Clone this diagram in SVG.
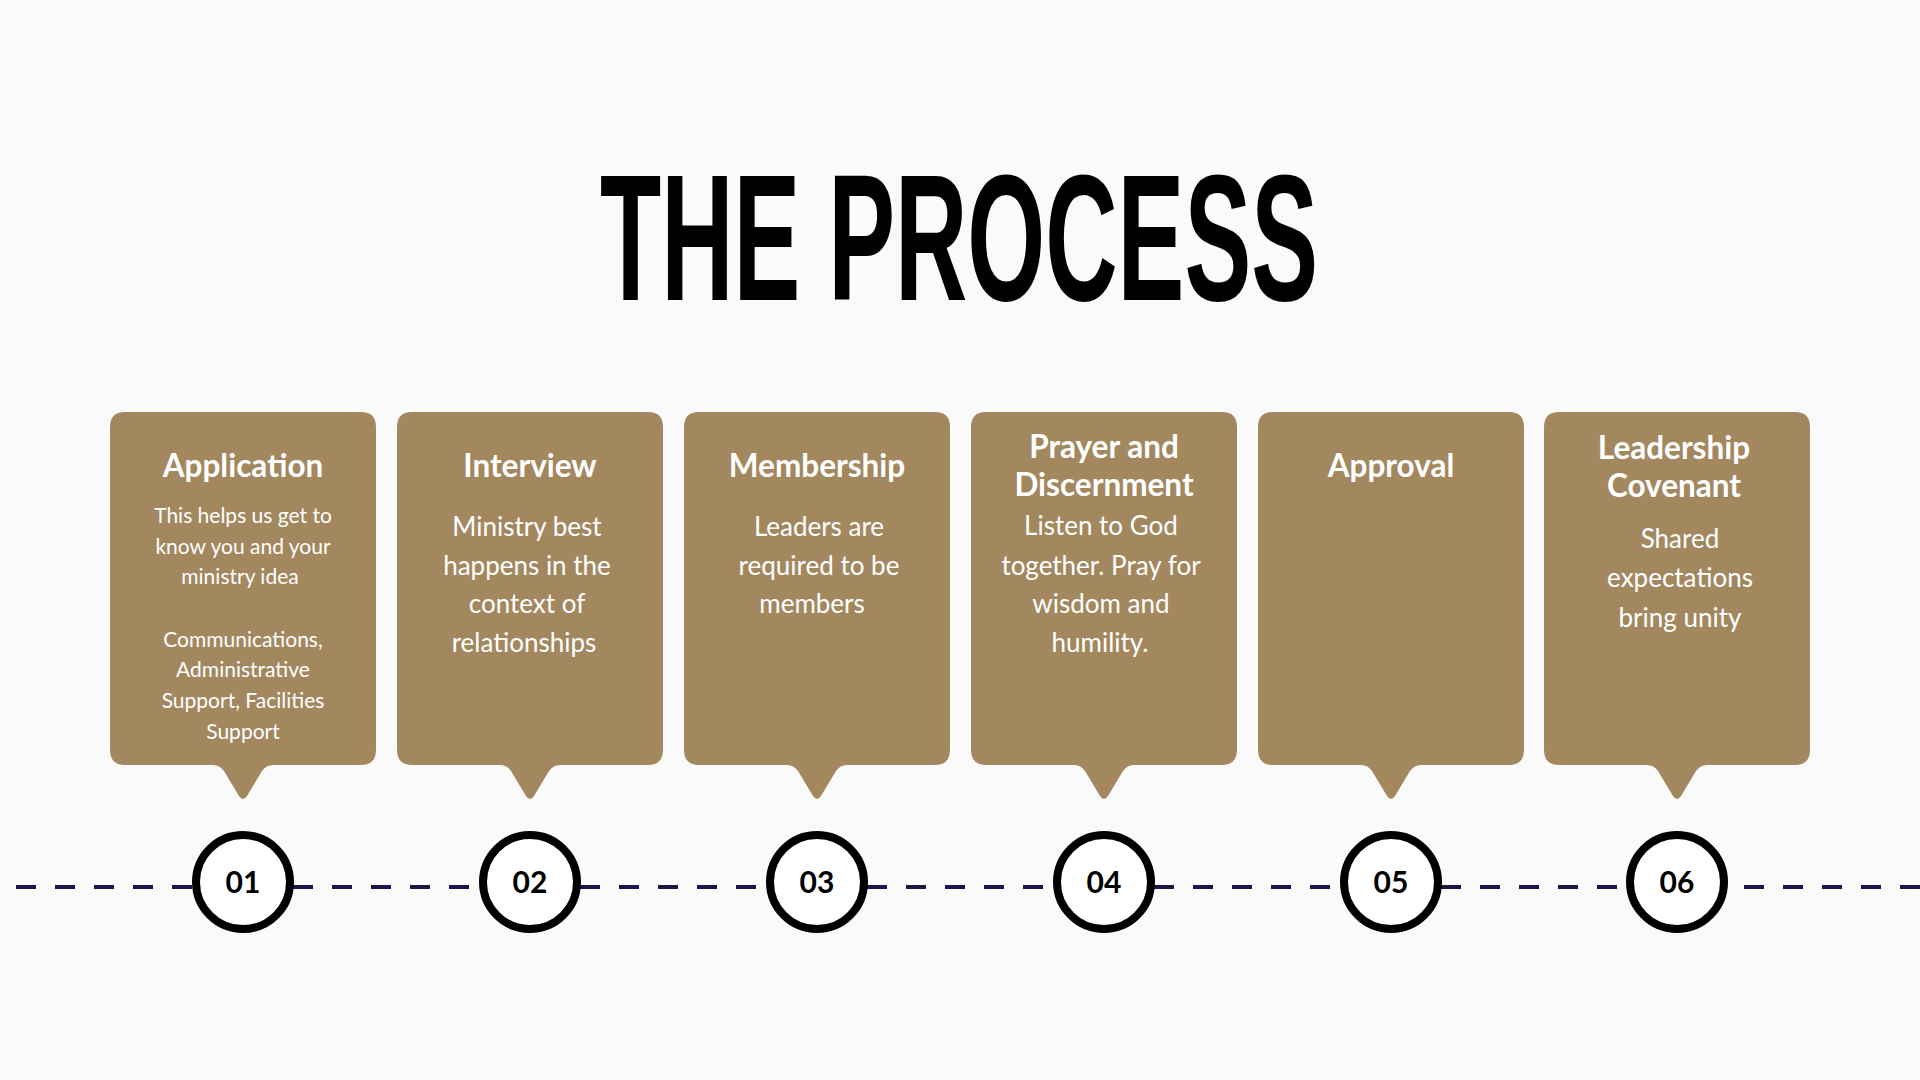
<svg xmlns="http://www.w3.org/2000/svg" width="1920" height="1080" viewBox="0 0 1920 1080">
<defs>
<style>
.bg{fill:#fafafa}
.card{fill:#a3885f}
.h{font-family:Lato,"Open Sans","Liberation Sans",sans-serif;font-weight:700;font-size:31.5px;fill:#ffffff;text-anchor:middle}
.b{font-family:Lato,"Open Sans","Liberation Sans",sans-serif;font-weight:400;font-size:26px;fill:#ffffff;text-anchor:middle}
.s{font-family:Lato,"Open Sans","Liberation Sans",sans-serif;font-weight:400;font-size:21px;fill:#ffffff;text-anchor:middle}
.ring{fill:#ffffff;stroke:#000000;stroke-width:8}
.num{font-family:Lato,"Open Sans","Liberation Sans",sans-serif;font-weight:700;font-size:30px;fill:#000000;text-anchor:middle}
.dash{stroke:#20124d;stroke-width:4;stroke-dasharray:20 19;fill:none}
.title{font-family:"Liberation Sans","DejaVu Sans",sans-serif;font-weight:700;font-size:180px;fill:#000000;text-anchor:middle}
</style>
<path id="bubble" d="M15 0 H251 Q266 0 266 15 V338 Q266 353 251 353 H163 Q156 353 152 359 L137 384 Q133 390 129 384 L114 359 Q110 353 103 353 H15 Q0 353 0 338 V15 Q0 0 15 0 Z"/>
</defs>
<rect class="bg" x="0" y="0" width="1920" height="1080"/>
<text class="title" x="959" y="300" textLength="718" lengthAdjust="spacingAndGlyphs">THE PROCESS</text>

<g id="connectors">
<line class="dash" x1="16" y1="887" x2="196" y2="887"/>
<line class="dash" x1="254" y1="887" x2="530" y2="887"/>
<line class="dash" x1="541" y1="887" x2="817" y2="887"/>
<line class="dash" x1="828" y1="887" x2="1104" y2="887"/>
<line class="dash" x1="1115" y1="887" x2="1391" y2="887"/>
<line class="dash" x1="1402" y1="887" x2="1677" y2="887"/>
<line class="dash" x1="1705" y1="887" x2="1920" y2="887"/>
</g>

<g id="step1">
<use href="#bubble" class="card" x="110" y="412"/>
<text class="h" x="243" y="477">Application</text>
<text class="s" x="243" y="523">This helps us get to</text>
<text class="s" x="243" y="554">know you and your</text>
<text class="s" x="240" y="584">ministry idea</text>
<text class="s" x="243" y="647">Communications,</text>
<text class="s" x="243" y="677">Administrative</text>
<text class="s" x="243" y="708">Support, Facilities</text>
<text class="s" x="243" y="739">Support</text>
<circle class="ring" cx="243" cy="882" r="47"/>
<text class="num" x="243" y="893">01</text>
</g>

<g id="step2">
<use href="#bubble" class="card" x="397" y="412"/>
<text class="h" x="530" y="477">Interview</text>
<text class="b" x="527" y="536">Ministry best</text>
<text class="b" x="527" y="575">happens in the</text>
<text class="b" x="527" y="613">context of</text>
<text class="b" x="524" y="652">relationships</text>
<circle class="ring" cx="530" cy="882" r="47"/>
<text class="num" x="530" y="893">02</text>
</g>

<g id="step3">
<use href="#bubble" class="card" x="684" y="412"/>
<text class="h" x="817" y="477">Membership</text>
<text class="b" x="819" y="536">Leaders are</text>
<text class="b" x="819" y="575">required to be</text>
<text class="b" x="812" y="613">members</text>
<circle class="ring" cx="817" cy="882" r="47"/>
<text class="num" x="817" y="893">03</text>
</g>

<g id="step4">
<use href="#bubble" class="card" x="971" y="412"/>
<text class="h" x="1104" y="458">Prayer and</text>
<text class="h" x="1104" y="496">Discernment</text>
<text class="b" x="1101" y="535">Listen to God</text>
<text class="b" x="1101" y="575">together. Pray for</text>
<text class="b" x="1101" y="613">wisdom and</text>
<text class="b" x="1100" y="652">humility.</text>
<circle class="ring" cx="1104" cy="882" r="47"/>
<text class="num" x="1104" y="893">04</text>
</g>

<g id="step5">
<use href="#bubble" class="card" x="1258" y="412"/>
<text class="h" x="1391" y="477">Approval</text>
<circle class="ring" cx="1391" cy="882" r="47"/>
<text class="num" x="1391" y="893">05</text>
</g>

<g id="step6">
<use href="#bubble" class="card" x="1544" y="412"/>
<text class="h" x="1674" y="459">Leadership</text>
<text class="h" x="1674" y="497">Covenant</text>
<text class="b" x="1680" y="548">Shared</text>
<text class="b" x="1680" y="587">expectations</text>
<text class="b" x="1680" y="627">bring unity</text>
<circle class="ring" cx="1677" cy="882" r="47"/>
<text class="num" x="1677" y="893">06</text>
</g>
</svg>
